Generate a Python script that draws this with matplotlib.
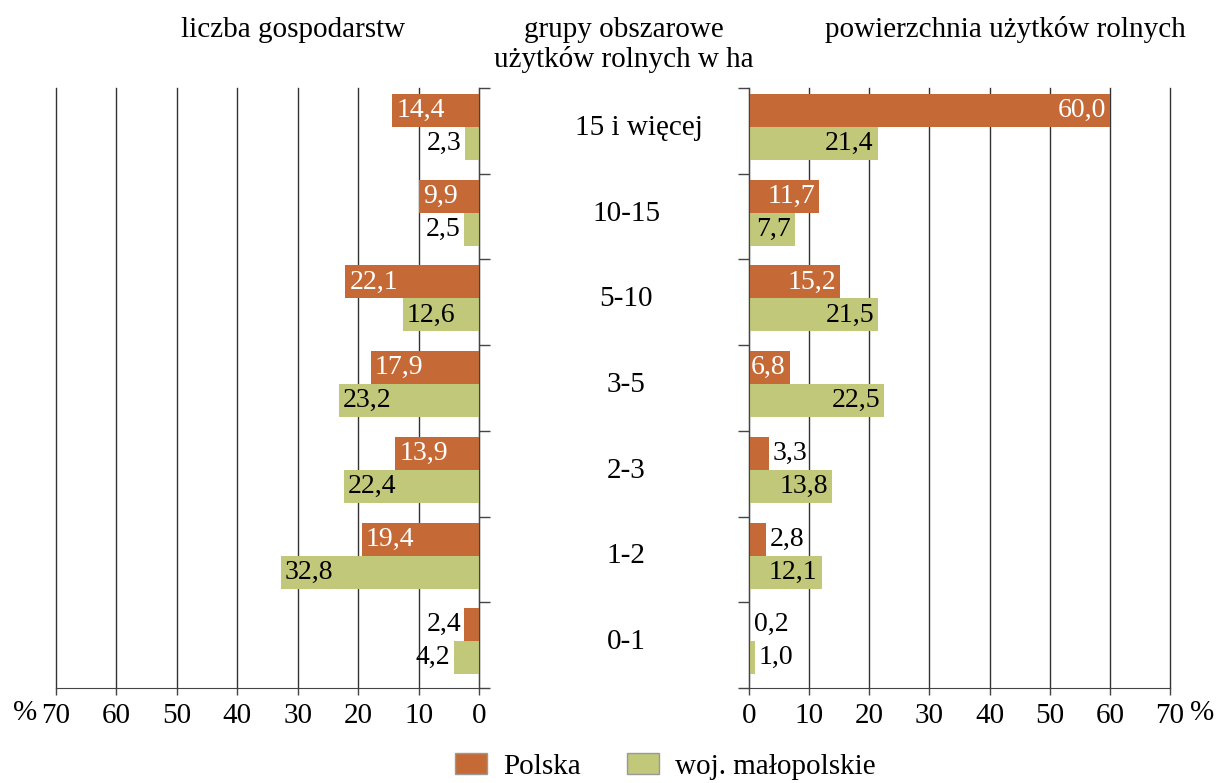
import matplotlib
matplotlib.use('Agg')
import matplotlib.pyplot as plt
import numpy as np
from matplotlib.patches import Patch

plt.rcParams['font.family'] = ['Liberation Serif', 'DejaVu Serif']

categories = ['15 i więcej', '10-15', '5-10', '3-5', '2-3', '1-2', '0-1']
gosp_polska = [14.4, 9.9, 22.1, 17.9, 13.9, 19.4, 2.4]
gosp_malop = [2.3, 2.5, 12.6, 23.2, 22.4, 32.8, 4.2]
pow_polska = [60.0, 11.7, 15.2, 6.8, 3.3, 2.8, 0.2]
pow_malop = [21.4, 7.7, 21.5, 22.5, 13.8, 12.1, 1.0]
xticks = [0, 10, 20, 30, 40, 50, 60, 70]

c_pl = '#C56A36'
c_mp = '#C2C87A'
fs = 21
fs_num = 20


def fmt(v):
    return f'{v:.1f}'.replace('.', ',')


def draw(ax, pl, mp, left):
    y = np.arange(len(categories))
    h = 0.385
    shift = -0.045
    ax.barh(y + shift - h / 2, pl, height=h, color=c_pl, zorder=2)
    ax.barh(y + shift + h / 2, mp, height=h, color=c_mp, zorder=2)
    ax.set_xlim(0, 70)
    if left:
        ax.invert_xaxis()
    ax.set_ylim(6.5, -0.5)
    ax.set_yticks(np.arange(-0.5, 7, 1))
    ax.set_yticklabels([])
    ax.set_xticks(xticks)
    ax.tick_params(axis='x', labelsize=fs, length=5, width=1, color='#444444', pad=6)
    ax.tick_params(axis='y', length=8, width=1, color='#444444')
    ax.spines['top'].set_visible(False)
    if left:
        ax.spines['left'].set_visible(False)
        ax.yaxis.tick_right()
        ax.spines['right'].set_color('#444444')
    else:
        ax.spines['right'].set_visible(False)
        ax.spines['left'].set_color('#444444')
    ax.spines['bottom'].set_color('#444444')
    ax.grid(axis='x', color='#333333', lw=1)
    for gl in ax.get_xgridlines():
        gl.set_clip_on(False)
    ax.set_axisbelow(True)
    sgn = -1 if left else 1
    for i in range(len(categories)):
        for v, yy, col in [(pl[i], y[i] + shift - h / 2, 'white'),
                           (mp[i], y[i] + shift + h / 2, 'black')]:
            if v >= 6:
                off = -3 * sgn
                ha = 'left' if left else 'right'
                tc = col
            else:
                off = 2.5 * sgn
                ha = 'right' if left else 'left'
                tc = 'black'
            ax.annotate(fmt(v), (v, yy), xytext=(off, 0), textcoords='offset points',
                        ha=ha, va='center', fontsize=fs_num, color=tc, zorder=3)


fig = plt.figure(figsize=(12.21, 7.83), dpi=100)
ax1 = fig.add_axes([0.0459, 0.1213, 0.3464, 0.7663])
ax2 = fig.add_axes([0.6134, 0.1213, 0.3448, 0.7663])
draw(ax1, gosp_polska, gosp_malop, True)
draw(ax2, pow_polska, pow_malop, False)

fig.text(0.011, 0.090, '%', fontsize=fs, ha='left', va='center')
fig.text(0.975, 0.090, '%', fontsize=fs, ha='left', va='center')

fig.text(0.240, 0.962, 'liczba gospodarstw', fontsize=fs, ha='center', va='center')
fig.text(0.511, 0.943, 'grupy obszarowe\nużytków rolnych w ha', fontsize=fs,
         ha='center', va='center', linespacing=1.15)
fig.text(0.823, 0.962, 'powierzchnia użytków rolnych', fontsize=fs, ha='center', va='center')

y0 = 0.1213 + 0.7663
for i, c in enumerate(categories):
    yc = y0 - 0.7663 * (i + 0.5) / 7 + 3 / 783
    xc = 0.523 if i == 0 else 0.513
    fig.text(xc, yc, c, fontsize=fs, ha='center', va='center')

handles = [Patch(facecolor=c_pl, edgecolor='#999999', label='Polska'),
           Patch(facecolor=c_mp, edgecolor='#999999', label='woj. małopolskie')]
fig.legend(handles=handles, loc='center', bbox_to_anchor=(0.545, 0.021), ncol=2,
           frameon=False, fontsize=fs, handlelength=1.1, handleheight=0.75,
           columnspacing=1.6, handletextpad=0.55, borderpad=0.1)

fig.savefig('out.png', dpi=100)
